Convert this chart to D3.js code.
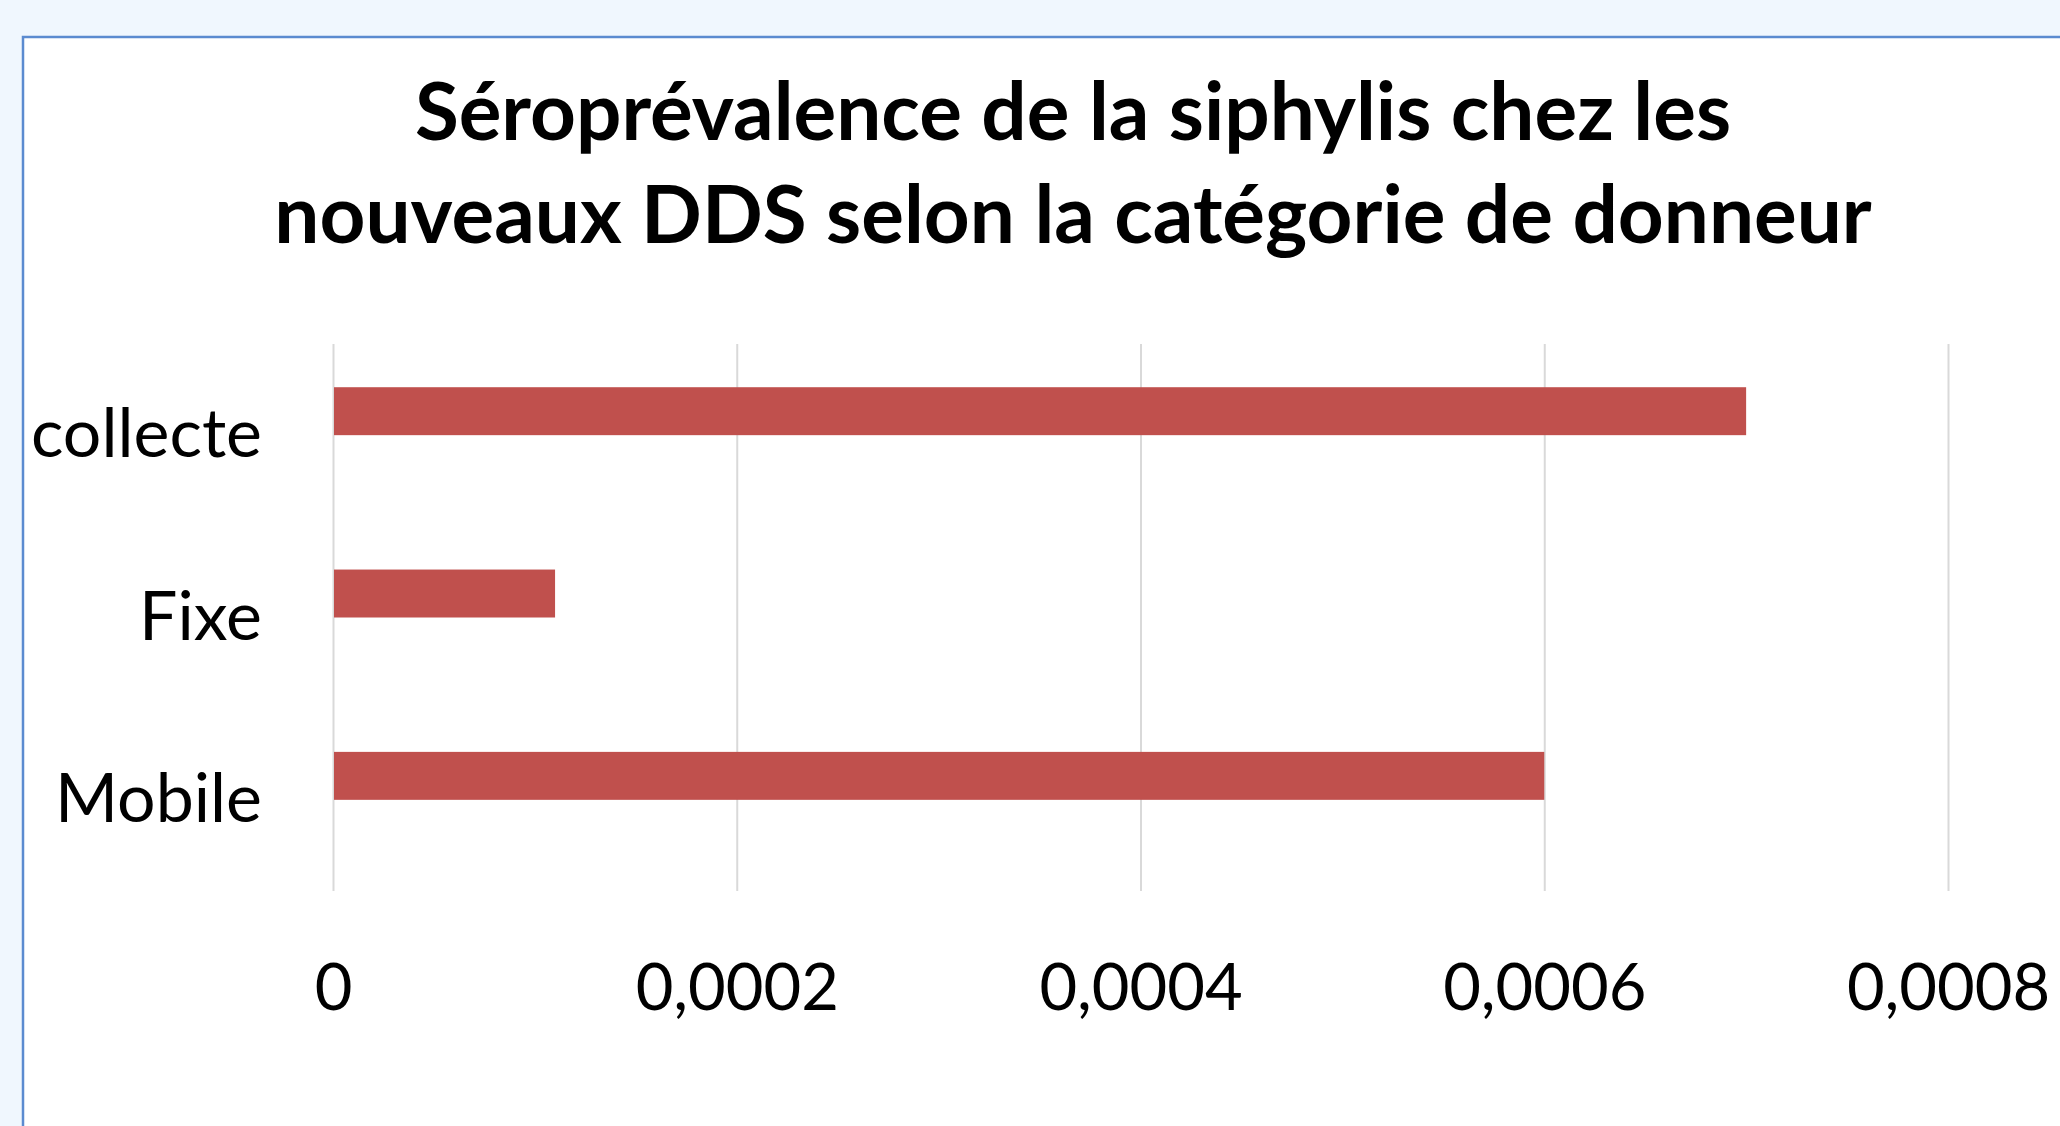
<!DOCTYPE html>
<html>
<head>
<meta charset="utf-8">
<script src="https://cdn.jsdelivr.net/npm/d3@7"></script>
<style>
  body { margin: 0; background: #f0f7fe; }
  svg { display: block; }
</style>
</head>
<body>
<svg id="chart"></svg>
<script>
// categories and values
var categories = ["collecte", "Fixe", "Mobile"];
var values = [0.0007, 0.00011, 0.0006];
var xTicks = [0, 0.0002, 0.0004, 0.0006, 0.0008];
var titleLines = ["Séroprévalence de la siphylis chez les",
                  "nouveaux DDS selon la catégorie de donneur"];

var width = 2060;
var height = 1126;

var plot = {left: 333, right: 1948, top: 344, bottom: 891};

var svg = d3.select("#chart")
  .attr("width", width)
  .attr("height", height);

// chart area box with thin blue border
svg.append("rect")
  .attr("x", 23)
  .attr("y", 37)
  .attr("width", width + 20)
  .attr("height", height + 20)
  .style("fill", "#ffffff")
  .style("stroke", "#5b8bd0")
  .style("stroke-width", 2.5);

// title, two lines
svg.append("g")
  .selectAll("text")
  .data(titleLines)
  .enter().append("text")
  .attr("x", 1073)
  .attr("y", function (d, i) { return 140 + i * 103; })
  .attr("text-anchor", "middle")
  .style("font-family", "Lato, 'Open Sans', sans-serif")
  .style("font-weight", "bold")
  .style("font-size", "80px")
  .style("fill", "#000")
  .text(function (d) { return d; });

var x = d3.scaleLinear()
  .domain([0, 0.0008])
  .range([plot.left, plot.right]);

var y = d3.scaleBand()
  .domain(categories)
  .range([plot.top, plot.bottom]);

// french style numbers, comma decimal
var fr = d3.formatLocale({decimal: ",", thousands: " ", grouping: [3], currency: ["", " €"]});
var fmt = function (d) { return d === 0 ? "0" : fr.format(".4f")(d); };

// gridlines + tick labels
var xAxis = svg.append("g")
  .attr("transform", "translate(0," + plot.bottom + ")")
  .call(d3.axisBottom(x)
    .tickValues(xTicks)
    .tickFormat(fmt)
    .tickSizeInner(-(plot.bottom - plot.top))
    .tickSizeOuter(0));

xAxis.select(".domain").remove();
xAxis.selectAll("line")
  .style("stroke", "#d9d9d9")
  .style("stroke-width", 2);
xAxis.selectAll("text")
  .attr("y", 119)
  .attr("dy", null)
  .style("font-family", "Lato, 'Open Sans', sans-serif")
  .style("font-size", "65px")
  .style("fill", "#000");

// bars sit in the upper half of each band (second series slot is empty)
var barH = y.bandwidth() * 0.263;

svg.append("g")
  .selectAll("rect")
  .data(categories)
  .enter().append("rect")
  .attr("x", x(0) + 1)
  .attr("y", function (d) { return y(d) + y.bandwidth() / 2 - barH; })
  .attr("width", function (d, i) { return x(values[i]) - x(0) - 1; })
  .attr("height", barH)
  .style("fill", "#c0504d");

// category labels
svg.append("g")
  .selectAll("text")
  .data(categories)
  .enter().append("text")
  .attr("x", 262)
  .attr("y", function (d) { return y(d) + y.bandwidth() / 2 + 22; })
  .attr("text-anchor", "end")
  .style("font-family", "Lato, 'Open Sans', sans-serif")
  .style("font-size", "68px")
  .style("fill", "#000")
  .text(function (d) { return d; });
</script>
</body>
</html>
